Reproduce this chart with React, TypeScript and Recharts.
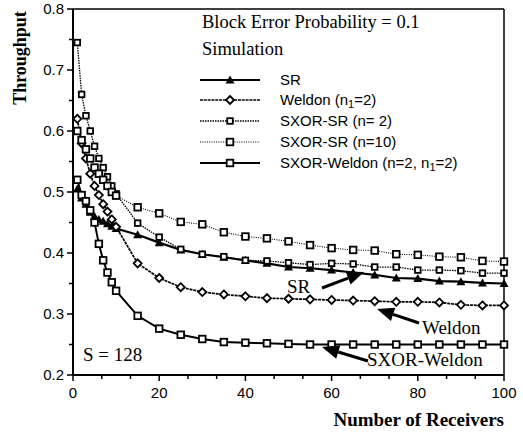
import React from 'react';
import { LineChart, Line, XAxis, YAxis, ReferenceLine } from 'recharts';

// number of receivers on the x axis
const receivers = [1, 2, 3, 4, 5, 6, 7, 8, 9, 10, 15, 20, 25, 30, 35, 40, 45, 50, 55, 60, 65, 70, 75, 80, 85, 90, 95, 100];

const srValues = [0.505, 0.49, 0.48, 0.467, 0.46, 0.455, 0.452, 0.448, 0.444, 0.44, 0.43, 0.417, 0.405, 0.398, 0.393, 0.388, 0.383, 0.377, 0.375, 0.372, 0.368, 0.364, 0.359, 0.358, 0.354, 0.353, 0.351, 0.35];
const weldonValues = [0.62, 0.58, 0.555, 0.53, 0.51, 0.495, 0.48, 0.468, 0.455, 0.443, 0.383, 0.359, 0.344, 0.336, 0.332, 0.329, 0.326, 0.325, 0.324, 0.323, 0.322, 0.321, 0.32, 0.32, 0.319, 0.315, 0.314, 0.314];
const sxorSr2Values = [0.745, 0.66, 0.625, 0.6, 0.575, 0.555, 0.54, 0.525, 0.51, 0.497, 0.449, 0.426, 0.406, 0.398, 0.394, 0.388, 0.387, 0.384, 0.381, 0.383, 0.382, 0.377, 0.377, 0.372, 0.372, 0.371, 0.367, 0.367];
const sxorSr10Values = [0.6, 0.585, 0.57, 0.555, 0.54, 0.53, 0.52, 0.51, 0.5, 0.494, 0.475, 0.465, 0.451, 0.447, 0.434, 0.427, 0.424, 0.419, 0.413, 0.408, 0.405, 0.404, 0.398, 0.397, 0.394, 0.393, 0.387, 0.386];
const sxorWeldonValues = [0.52, 0.495, 0.485, 0.47, 0.45, 0.415, 0.388, 0.368, 0.352, 0.338, 0.297, 0.276, 0.266, 0.259, 0.254, 0.253, 0.252, 0.251, 0.25, 0.25, 0.25, 0.25, 0.25, 0.25, 0.25, 0.25, 0.25, 0.25];

const xTicks = [0, 6.67, 13.33, 20, 26.67, 33.33, 40, 46.67, 53.33, 60, 66.67, 73.33, 80, 86.67, 93.33, 100];
const xLabels = [0, 20, 40, 60, 80, 100];
const yTicks = [0.2, 0.25, 0.3, 0.35, 0.4, 0.45, 0.5, 0.55, 0.6, 0.65, 0.7, 0.75, 0.8];
const yLabels = ['0.2', '0.3', '0.4', '0.5', '0.6', '0.7', '0.8'];

const data = receivers.map((n, i) => ({
  n,
  sr: srValues[i],
  weldon: weldonValues[i],
  sxorSr2: sxorSr2Values[i],
  sxorSr10: sxorSr10Values[i],
  sxorWeldon: sxorWeldonValues[i],
}));

const SANS = '"Liberation Sans", Arial, sans-serif';
const SERIF = '"Liberation Serif", "Times New Roman", serif';

type Shape = 'triangle' | 'diamond' | 'square' | 'smallSquare';

function Marker({ cx, cy, shape }: { cx: number; cy: number; shape: Shape }) {
  if (cx == null || cy == null) return null;
  if (shape === 'triangle') {
    return <polygon points={`${cx},${cy - 4.5} ${cx + 4.5},${cy + 3.5} ${cx - 4.5},${cy + 3.5}`} fill="#000" />;
  }
  if (shape === 'diamond') {
    return <polygon points={`${cx},${cy - 4} ${cx + 4},${cy} ${cx},${cy + 4} ${cx - 4},${cy}`} fill="#fff" stroke="#000" strokeWidth={1.8} />;
  }
  const s = shape === 'square' ? 3.3 : 2.8;
  return <rect x={cx - s} y={cy - s} width={s * 2} height={s * 2} fill="#fff" stroke="#000" strokeWidth={1.8} />;
}

const series = [
  { key: 'sr', name: 'SR', shape: 'triangle' as Shape, width: 2.2, dash: undefined },
  { key: 'weldon', name: 'Weldon', shape: 'diamond' as Shape, width: 1.7, dash: '3 0.8' },
  { key: 'sxorSr2', name: ' SXOR-SR (n= 2)', shape: 'smallSquare' as Shape, width: 1.3, dash: '1.5 1' },
  { key: 'sxorSr10', name: 'SXOR-SR (n=10)', shape: 'square' as Shape, width: 1.1, dash: '1 1.3' },
  { key: 'sxorWeldon', name: 'SXOR-Weldon', shape: 'square' as Shape, width: 2, dash: undefined },
];

function XTick({ x, y, payload }: any) {
  const major = xLabels.some(v => Math.abs(v - payload.value) < 0.01);
  return (
    <g>
      <line x1={x} x2={x} y1={y} y2={y + (major ? 6 : 4)} stroke="#000" strokeWidth={1.5} />
      {major && (
        <text x={x} y={y + 23} textAnchor="middle" fontFamily={SANS} fontSize={15} fill="#000">
          {Math.round(payload.value)}
        </text>
      )}
    </g>
  );
}

function YTick({ x, y, payload }: any) {
  const label = payload.value.toFixed(1);
  const major = Math.abs(payload.value * 10 - Math.round(payload.value * 10)) < 0.01 && yLabels.includes(label);
  return (
    <g>
      <line x1={x - (major ? 6 : 4)} x2={x} y1={y} y2={y} stroke="#000" strokeWidth={1.5} />
      {major && (
        <text x={x - 9} y={y + 5} textAnchor="end" fontFamily={SANS} fontSize={15} fill="#000">
          {label}
        </text>
      )}
    </g>
  );
}

function Arrow({ x1, y1, x2, y2 }: { x1: number; y1: number; x2: number; y2: number }) {
  const dx = x2 - x1;
  const dy = y2 - y1;
  const len = Math.sqrt(dx * dx + dy * dy);
  const ux = dx / len;
  const uy = dy / len;
  const hl = 17;
  const hw = 7;
  const bx = x2 - ux * hl;
  const by = y2 - uy * hl;
  return (
    <g>
      <line x1={x1} y1={y1} x2={bx} y2={by} stroke="#000" strokeWidth={3} />
      <polygon points={`${x2},${y2} ${bx - uy * hw},${by + ux * hw} ${bx + uy * hw},${by - ux * hw}`} fill="#000" />
    </g>
  );
}

function LegendLabel({ name }: { name: string }) {
  if (name === 'Weldon') {
    return (
      <>
        Weldon (n<tspan fontSize={11} dy={3}>1</tspan><tspan dy={-3}>=2)</tspan>
      </>
    );
  }
  if (name === 'SXOR-Weldon') {
    return (
      <>
        SXOR-Weldon (n=2, n<tspan fontSize={11} dy={3}>1</tspan><tspan dy={-3}>=2)</tspan>
      </>
    );
  }
  return <>{name}</>;
}

const legendRows = [80, 100, 121, 142, 163];

export default function App() {
  return (
    <div style={{ position: 'absolute', left: 0, top: 0, width: 523, height: 435, background: '#fff' }}>
      <LineChart width={523} height={435} data={data} margin={{ top: 9, right: 19, bottom: 30, left: 33 }}>
        <XAxis
          dataKey="n"
          type="number"
          domain={[0, 100]}
          ticks={xTicks}
          interval={0}
          tick={<XTick />}
          tickSize={0}
          tickMargin={0}
          tickLine={false}
          axisLine={{ stroke: '#000', strokeWidth: 2 }}
          height={30}
        />
        <YAxis
          type="number"
          domain={[0.2, 0.8]}
          ticks={yTicks}
          interval={0}
          tick={<YTick />}
          tickSize={0}
          tickMargin={0}
          tickLine={false}
          axisLine={{ stroke: '#000', strokeWidth: 2 }}
          width={40}
          allowDataOverflow
        />
        <ReferenceLine y={0.8} stroke="#000" strokeWidth={1.5} />
        <ReferenceLine x={100} stroke="#000" strokeWidth={1.5} />
        {series.map(s => (
          <Line
            key={s.key}
            dataKey={s.key}
            type="linear"
            stroke="#000"
            strokeWidth={s.width}
            strokeDasharray={s.dash}
            isAnimationActive={false}
            dot={(p: any) => <Marker key={`${s.key}-${p.index}`} cx={p.cx} cy={p.cy} shape={s.shape} />}
          />
        ))}
      </LineChart>
      <svg width={523} height={435} style={{ position: 'absolute', left: 0, top: 0, pointerEvents: 'none' }}>
        <text transform="translate(26,58) rotate(-90)" textAnchor="middle" fontFamily={SERIF} fontWeight="bold" fontSize={18} fill="#000">
          Throughput
        </text>
        <text x={504} y={426} textAnchor="end" fontFamily={SERIF} fontWeight="bold" fontSize={19} fill="#000">
          Number of Receivers
        </text>
        <text x={202} y={28} fontFamily={SERIF} fontSize={18.5} fill="#000">Block Error Probability = 0.1</text>
        <text x={202} y={55} fontFamily={SERIF} fontSize={18.5} fill="#000">Simulation</text>
        {series.map((s, i) => (
          <g key={s.key}>
            <line x1={200} x2={260} y1={legendRows[i]} y2={legendRows[i]} stroke="#000" strokeWidth={s.width} strokeDasharray={s.dash} />
            <Marker cx={230} cy={legendRows[i]} shape={s.shape} />
            <text x={280} y={legendRows[i] + 5} fontFamily={SANS} fontSize={15} fill="#000">
              <LegendLabel name={s.name} />
            </text>
          </g>
        ))}
        <text x={83} y={361} fontFamily={SERIF} fontSize={19} fill="#000">S = 128</text>
        <text x={287} y={293} fontFamily={SERIF} fontSize={19} fill="#000">SR</text>
        <Arrow x1={322} y1={288} x2={364} y2={272} />
        <text x={422} y={334} fontFamily={SERIF} fontSize={19} fill="#000">Weldon</text>
        <Arrow x1={419} y1={323} x2={377} y2={309} />
        <text x={367} y={366} fontFamily={SERIF} fontSize={19} fill="#000">SXOR-Weldon</text>
        <Arrow x1={368} y1={361} x2={322} y2={347} />
      </svg>
    </div>
  );
}
